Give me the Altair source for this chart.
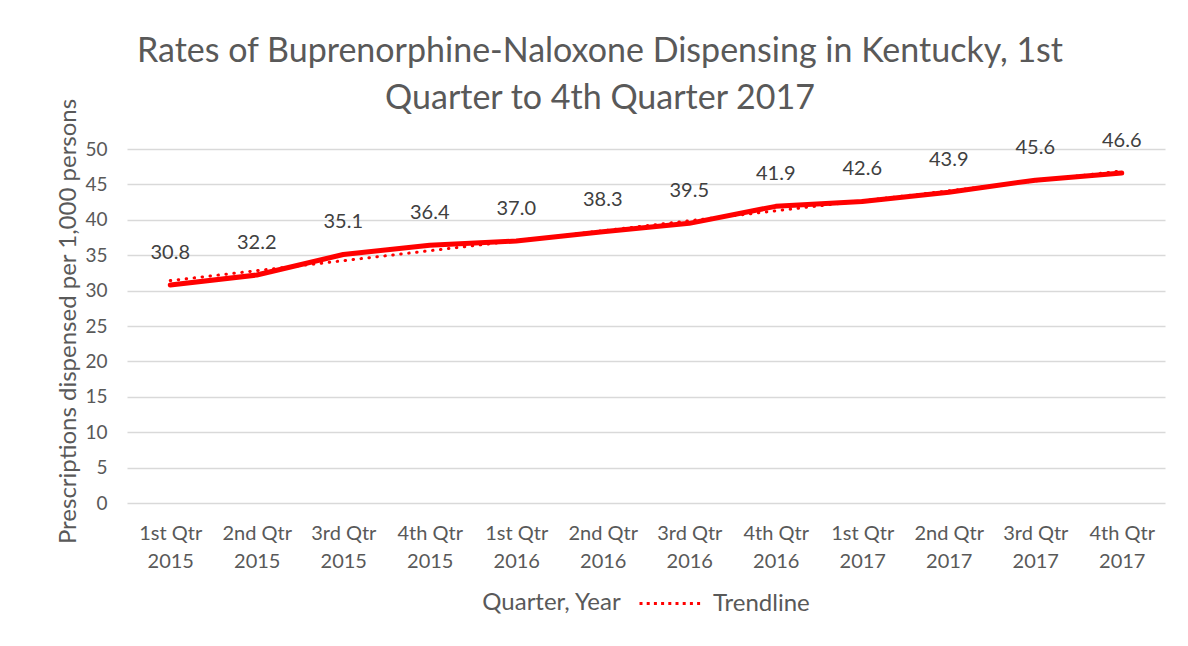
import json
import altair as alt
import pandas as pd

# ---- data ----
quarters = ["1st Qtr", "2nd Qtr", "3rd Qtr", "4th Qtr",
            "1st Qtr", "2nd Qtr", "3rd Qtr", "4th Qtr",
            "1st Qtr", "2nd Qtr", "3rd Qtr", "4th Qtr"]
years = ["2015", "2015", "2015", "2015",
         "2016", "2016", "2016", "2016",
         "2017", "2017", "2017", "2017"]
rates = [30.8, 32.2, 35.1, 36.4, 37.0, 38.3, 39.5, 41.9, 42.6, 43.9, 45.6, 46.6]
y_ticks = [0, 5, 10, 15, 20, 25, 30, 35, 40, 45, 50]
trend_name = "Trendline"
title_lines = ["Rates of Buprenorphine-Naloxone Dispensing in Kentucky, 1st",
               "Quarter to 4th Quarter 2017"]
x_title = "Quarter, Year"
y_title = "Prescriptions dispensed per 1,000 persons"

labels = [f"{q}|{y}" for q, y in zip(quarters, years)]
idx = list(range(len(rates)))
df = pd.DataFrame({"idx": idx, "rate": rates, "label": labels})

label_expr = "split(" + json.dumps(labels) + "[datum.value], '|')"

GREY = "#595959"
RED = "#FF0000"

x_enc = alt.X(
    "idx:Q",
    scale=alt.Scale(domain=[-0.5, len(rates) - 0.5], nice=False, zero=False),
    axis=alt.Axis(
        values=idx, labelExpr=label_expr, title=x_title,
        grid=False, ticks=False, domain=False, labelPadding=20,
        labelFontSize=20, labelColor=GREY, labelLineHeight=28,
        labelFlush=False, labelOverlap=False,
        titleFontSize=24, titleColor=GREY, titleFontWeight="normal",
        titleX=424, titleY=99, titleBaseline="middle", titleAlign="center",
    ),
)
y_enc = alt.Y(
    "rate:Q",
    scale=alt.Scale(domain=[0, 50], nice=False),
    axis=alt.Axis(
        values=y_ticks, title=y_title, ticks=False, domain=False,
        labelPadding=20, labelFontSize=19, labelColor=GREY,
        gridColor="#d9d9d9", gridWidth=1.5,
        titleFontSize=24, titleColor=GREY, titleFontWeight="normal",
        titleX=-59, titleY=172, titleBaseline="middle", titleAlign="center",
        titleAngle=270,
    ),
)

base = alt.Chart(df)

trend = base.transform_regression(
    "idx", "rate", method="linear", extent=[0, len(rates) - 1]
).transform_calculate(
    series=f"'{trend_name}'"
).mark_line(
    strokeDash=[0.5, 7.5], strokeCap="round", strokeWidth=3
).encode(
    x=x_enc, y=y_enc,
    color=alt.Color(
        "series:N",
        scale=alt.Scale(domain=[trend_name], range=[RED]),
        legend=alt.Legend(
            orient="none", legendX=511, legendY=421, title=None, padding=0,
            symbolType="stroke", symbolSize=4096, symbolStrokeWidth=3,
            symbolDash=[3, 4.2], labelFontSize=24, labelColor=GREY,
            labelOffset=8,
        ),
    ),
)

line = base.mark_line(
    color=RED, strokeWidth=5, strokeCap="round", strokeJoin="round"
).encode(x=x_enc, y=y_enc)

text = base.mark_text(
    dy=-32, fontSize=20, color="#404040"
).encode(x=x_enc, y=y_enc, text=alt.Text("rate:Q", format=".1f"))

chart = alt.layer(trend, line, text).properties(
    width=1038, height=354,
    autosize=alt.AutoSizeParams(type="none"),
    padding={"left": 119, "top": 141, "right": 15, "bottom": 135},
    background="white",
    title=alt.TitleParams(
        title_lines, fontSize=34, color=GREY, fontWeight="normal",
        anchor="middle", dx=-46, lineHeight=47, offset=-18,
    ),
).configure(font="Lato").configure_view(stroke=None)

chart.save("out.html", embed_options={"renderer": "svg", "actions": False})
